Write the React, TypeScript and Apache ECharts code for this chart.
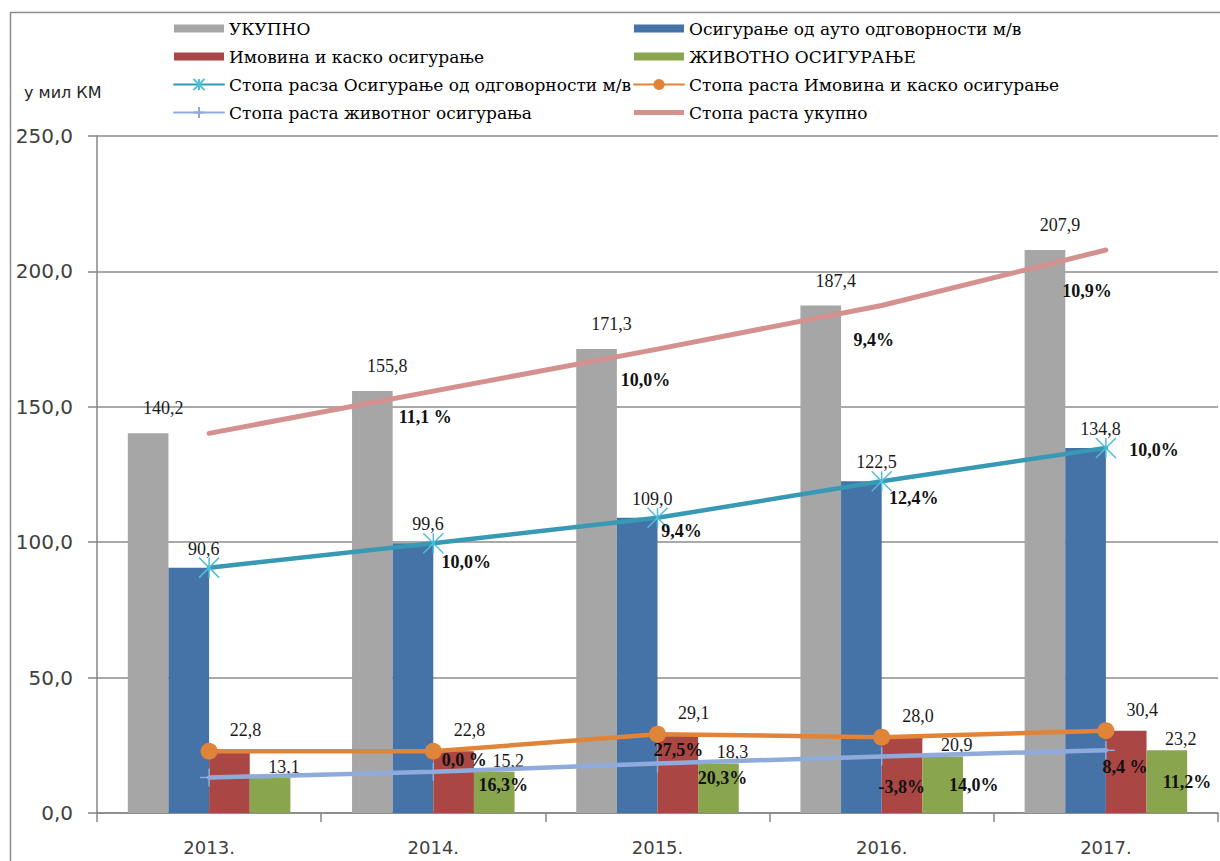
import React, { useEffect, useRef } from "react";
import * as echarts from "echarts";

// ---- data ----
const years = ["2013.", "2014.", "2015.", "2016.", "2017."];
const totalValues = [140.2, 155.8, 171.3, 187.4, 207.9];
const motorValues = [90.6, 99.6, 109.0, 122.5, 134.8];
const propertyValues = [22.8, 22.8, 29.1, 28.0, 30.4];
const lifeValues = [13.1, 15.2, 18.3, 20.9, 23.2];
const totalGrowth = ["", "11,1 %", "10,0%", "9,4%", "10,9%"];
const motorGrowth = ["", "10,0%", "9,4%", "12,4%", "10,0%"];
const propertyGrowth = ["", "0,0 %", "27,5%", "-3,8%", "8,4 %"];
const lifeGrowth = ["", "16,3%", "20,3%", "14,0%", "11,2%"];
const yMin = 0;
const yMax = 250;
const yStep = 50;

// ---- layout of growth labels (offset of label centre from the point) ----
const totalGrowthOffsets = [[0, 0], [-8, 26], [-12, 31], [-8, 34], [-19, 41]];
const motorGrowthOffsets = [[0, 0], [33, 19], [24, 13], [32, 17], [48, 2]];
const propertyGrowthOffsets = [[0, 0], [31, 9], [21, 16], [20, 50], [19, 36]];
const lifeGrowthOffsets = [[0, 0], [70, 13], [65, 15], [92, 29], [81, 32]];

const NAME_TOTAL = "УКУПНО";
const NAME_MOTOR = "Осигурање од ауто одговорности м/в";
const NAME_PROP = "Имовина и каско осигурање";
const NAME_LIFE = "ЖИВОТНО ОСИГУРАЊЕ";
const NAME_G_MOTOR = "Стопа расза Осигурање од одговорности м/в";
const NAME_G_PROP = "Стопа раста Имовина и каско осигурање";
const NAME_G_LIFE = "Стопа раста животног осигурања";
const NAME_G_TOTAL = "Стопа раста укупно";

const COLOR_PINK = "#d4918f";

const fmt = (v: number) => v.toFixed(1).replace(".", ",");

const valueLabel = (dx: number, dy: number) => ({
  show: true,
  position: "top" as const,
  offset: [dx, dy],
  fontFamily: "Liberation Serif",
  fontSize: 18,
  color: "#1a1a1a",
  formatter: (p: any) => fmt(p.value),
});

const growthData = (values: number[], labels: string[], offsets: number[][]) =>
  values.map((v, i) => ({
    value: v,
    label: {
      show: labels[i] !== "",
      position: "inside",
      offset: offsets[i],
      formatter: labels[i],
      fontFamily: "Liberation Serif",
      fontWeight: "bold",
      fontSize: 18,
      color: "#111",
    },
  }));

const rectIcon = "path://M0,0H50V8H0Z";
const asterisk = "path://M0,0L20,20M20,0L0,20M10,0V20";
const plusMark = "path://M10,0V20M0,10H20";

export default function App() {
  const ref = useRef<HTMLDivElement>(null);
  useEffect(() => {
    if (!ref.current) return;
    const chart = echarts.init(ref.current, undefined, { renderer: "svg" });
    const legendText = { fontFamily: "DejaVu Serif", fontSize: 17, color: "#000" };
    const legendBase = {
      orient: "vertical",
      top: 20,
      padding: 0,
      itemWidth: 50,
      itemHeight: 14,
      itemGap: 11,
      symbolKeepAspect: true,
      textStyle: legendText,
    };
    chart.setOption({
      animation: false,
      backgroundColor: "#fff",
      title: {
        text: "у мил КМ",
        left: 19,
        top: 79,
        textStyle: { fontFamily: "DejaVu Sans", fontSize: 16, fontWeight: "normal", color: "#262626" },
      },
      graphic: [
        {
          type: "rect",
          silent: true,
          shape: { x: 10.5, y: 12.5, width: 1240, height: 880 },
          style: { fill: "none", stroke: "#8c8c8c", lineWidth: 1.5 },
        },
      ],
      legend: [
        {
          ...legendBase,
          left: 173,
          data: [
            { name: NAME_TOTAL, icon: rectIcon },
            { name: NAME_PROP, icon: rectIcon },
            { name: NAME_G_MOTOR },
            { name: NAME_G_LIFE },
          ],
        },
        {
          ...legendBase,
          left: 633,
          data: [
            { name: NAME_MOTOR, icon: rectIcon },
            { name: NAME_LIFE, icon: rectIcon },
            { name: NAME_G_PROP },
            { name: NAME_G_TOTAL, icon: "path://M0,0H50V5H0Z", itemStyle: { color: COLOR_PINK } },
          ],
        },
      ],
      grid: { left: 97, right: 2, top: 136, bottom: 48 },
      xAxis: {
        type: "category",
        data: years,
        axisLine: { lineStyle: { color: "#868686", width: 1.5 } },
        axisTick: { show: true, length: 9, lineStyle: { color: "#868686", width: 1.5 } },
        axisLabel: { fontFamily: "DejaVu Sans", fontSize: 18, color: "#404040", margin: 25 },
      },
      yAxis: {
        type: "value",
        min: yMin,
        max: yMax,
        interval: yStep,
        axisLine: { show: true, lineStyle: { color: "#868686", width: 1.5 } },
        axisTick: { show: true, length: 9, lineStyle: { color: "#868686", width: 1.5 } },
        splitLine: { lineStyle: { color: "#8c8c8c", width: 1.5 } },
        axisLabel: {
          fontFamily: "DejaVu Sans",
          fontSize: 20,
          color: "#404040",
          margin: 24,
          formatter: (v: number) => fmt(v),
        },
      },
      series: [
        {
          name: NAME_TOTAL,
          type: "bar",
          data: totalValues,
          barGap: "0%",
          barCategoryGap: "27.5%",
          itemStyle: { color: "#a6a6a6" },
          label: valueLabel(15, -11),
        },
        {
          name: NAME_MOTOR,
          type: "bar",
          data: motorValues,
          barGap: "0%",
          barCategoryGap: "27.5%",
          itemStyle: { color: "#4572a7" },
          label: valueLabel(15, -5),
        },
        {
          name: NAME_PROP,
          type: "bar",
          data: propertyValues,
          barGap: "0%",
          barCategoryGap: "27.5%",
          itemStyle: { color: "#aa4643" },
          label: valueLabel(16, -7),
        },
        {
          name: NAME_LIFE,
          type: "bar",
          data: lifeValues,
          barGap: "0%",
          barCategoryGap: "27.5%",
          itemStyle: { color: "#89a54e" },
          label: valueLabel(14, 3),
        },
        {
          name: NAME_G_TOTAL,
          type: "line",
          data: growthData(totalValues, totalGrowth, totalGrowthOffsets),
          symbol: "circle",
          symbolSize: 1,
          itemStyle: { color: "rgba(0,0,0,0)" },
          lineStyle: { color: COLOR_PINK, width: 5, cap: "round" },
          z: 3,
        },
        {
          name: NAME_G_MOTOR,
          type: "line",
          data: growthData(motorValues, motorGrowth, motorGrowthOffsets),
          symbol: asterisk,
          symbolSize: 20,
          itemStyle: { color: "#4fbfd9", borderColor: "#4fbfd9", borderWidth: 1.5 },
          lineStyle: { color: "#3799b4", width: 4.5, cap: "round" },
          z: 3,
        },
        {
          name: NAME_G_LIFE,
          type: "line",
          data: growthData(lifeValues, lifeGrowth, lifeGrowthOffsets),
          symbol: plusMark,
          symbolSize: 18,
          itemStyle: { color: "#8faadc", borderColor: "#8faadc", borderWidth: 1.5 },
          lineStyle: { color: "#8faadc", width: 4.5, cap: "round" },
          z: 3,
        },
        {
          name: NAME_G_PROP,
          type: "line",
          data: growthData(propertyValues, propertyGrowth, propertyGrowthOffsets),
          symbol: "circle",
          symbolSize: 17,
          itemStyle: { color: "#e0843a" },
          lineStyle: { color: "#e0843a", width: 4.5, cap: "round" },
          z: 4,
        },
      ],
    });
    return () => chart.dispose();
  }, []);
  return (
    <div
      ref={ref}
      style={{ position: "absolute", left: 0, top: 0, width: 1220, height: 861, background: "#fff" }}
    />
  );
}
